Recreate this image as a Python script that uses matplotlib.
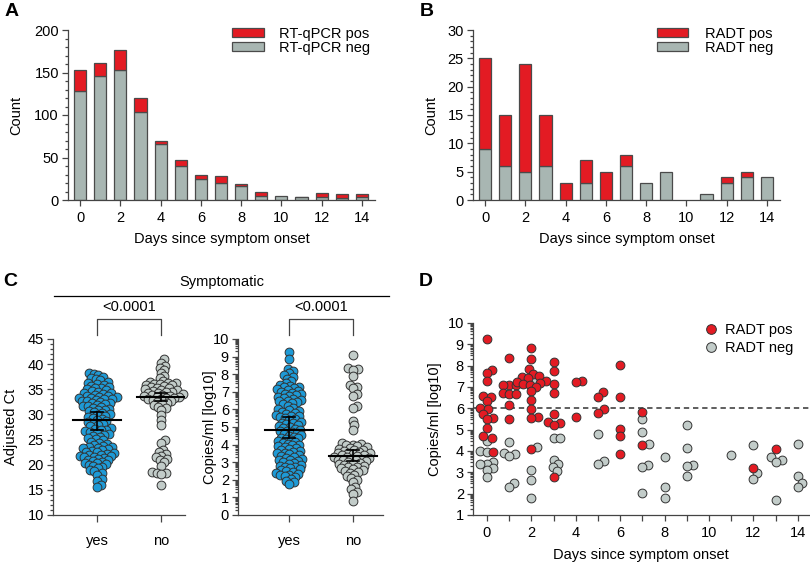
import numpy as np
import matplotlib
matplotlib.use("Agg")
import matplotlib.pyplot as plt
from matplotlib.ticker import MultipleLocator, FixedLocator
from matplotlib.lines import Line2D
from matplotlib.patches import Patch

plt.rcParams['font.family'] = ['Liberation Sans', 'DejaVu Sans']
plt.rcParams['font.size'] = 10.5

# ---- data ----
days = np.arange(15)
pcr_neg = [128, 146, 153, 104, 66, 40, 25, 20, 16, 5, 5, 3, 4, 2, 3]
pcr_pos = [25, 15, 24, 16, 3, 7, 5, 8, 3, 5, 0, 1, 4, 5, 4]
radt_neg = [9, 6, 5, 6, 0, 3, 0, 6, 3, 5, 0, 1, 3, 4, 4]
radt_pos = [16, 9, 19, 9, 3, 4, 5, 2, 0, 0, 0, 0, 1, 1, 0]

# panel C: symptomatic yes / no
groups = ["yes", "no"]
ct_yes = [38.3, 38.1, 37.8, 37.5, 37.2, 37.0, 36.8, 36.5, 36.3, 36.1, 35.9, 35.7,
          35.5, 35.3, 35.2, 35.0, 34.8, 34.6, 34.5, 34.3, 34.2, 34.0, 33.9, 33.7, 33.6,
          33.5, 33.4, 33.3, 33.2, 33.1, 33.0, 32.9, 32.7, 32.6, 32.5, 32.3, 32.2, 32.0,
          31.9, 31.7, 31.6, 31.5, 31.3, 31.1, 30.9, 30.8, 30.6, 30.4, 30.2, 30.0, 29.8,
          29.6, 29.4, 29.2, 29.0, 28.8, 28.6, 28.4, 28.2, 28.0, 27.8, 27.6, 27.4, 27.2,
          27.0, 26.9, 26.7, 26.6, 26.4, 26.2, 26.0, 25.8, 25.6, 25.4, 25.1, 24.9, 24.6,
          24.4, 24.2, 24.0, 23.8, 23.6, 23.5, 23.4, 23.3, 23.1, 22.9, 22.8, 22.6, 22.5,
          22.3, 22.2, 22.0, 21.9, 21.8, 21.7, 21.6, 21.5, 21.4, 21.2, 21.0, 20.9, 20.7,
          20.6, 20.4, 20.3, 20.1, 19.9, 19.7, 19.5, 19.3, 19.0, 18.7, 18.4, 18.0, 17.2,
          16.8, 16.0, 15.5]
ct_no = [41.0, 40.3, 39.7, 39.3, 38.8, 38.2, 37.6, 37.2, 36.6, 36.5, 36.3, 36.2, 36.1,
         36.0, 35.9, 35.8, 35.6, 35.5, 35.3, 35.2, 35.0, 34.9, 34.8, 34.7, 34.5, 34.4,
         34.3, 34.2, 34.0, 33.9, 33.8, 33.7, 33.6, 33.5, 33.4, 33.3, 33.2, 33.1, 33.0,
         32.8, 32.6, 32.4, 32.2, 32.0, 31.8, 31.5, 31.2, 30.8, 29.8, 28.8, 27.8, 25.0,
         24.4, 23.0, 22.6, 22.2, 21.8, 21.5, 21.2, 20.9, 20.5, 19.8, 18.6, 18.4, 18.3,
         18.2, 16.0]
cp_yes = [9.25, 8.85, 8.3, 8.2, 8.05, 7.95, 7.85, 7.75, 7.6, 7.5, 7.4, 7.35, 7.3, 7.25,
          7.2, 7.15, 7.1, 7.05, 7.0, 6.95, 6.9, 6.85, 6.8, 6.75, 6.7, 6.65, 6.6, 6.55,
          6.5, 6.45, 6.4, 6.35, 6.3, 6.2, 6.1, 6.0, 5.95, 5.9, 5.85, 5.8, 5.75, 5.7, 5.65,
          5.6, 5.55, 5.5, 5.45, 5.4, 5.3, 5.25, 5.2, 5.15, 5.1, 5.05, 5.0, 4.95, 4.9, 4.85,
          4.8, 4.75, 4.7, 4.65, 4.6, 4.55, 4.5, 4.45, 4.4, 4.35, 4.3, 4.25, 4.2, 4.15, 4.1,
          4.05, 4.0, 3.95, 3.9, 3.85, 3.8, 3.75, 3.7, 3.65, 3.6, 3.55, 3.5, 3.45, 3.4, 3.35,
          3.3, 3.25, 3.2, 3.15, 3.1, 3.05, 3.0, 2.95, 2.9, 2.85, 2.8, 2.75, 2.7, 2.65, 2.6,
          2.55, 2.5, 2.45, 2.4, 2.35, 2.3, 2.25, 2.2, 2.15, 2.05, 1.95, 1.85, 1.75]
cp_no = [9.1, 8.35, 8.3, 8.25, 7.9, 7.4, 7.3, 7.2, 6.9, 6.75, 6.2, 6.1, 5.35, 5.1, 4.85,
         4.1, 4.05, 4.0, 3.95, 3.9, 3.85, 3.8, 3.75, 3.7, 3.7, 3.65, 3.6, 3.55, 3.5, 3.5,
         3.45, 3.4, 3.4, 3.35, 3.3, 3.3, 3.25, 3.2, 3.2, 3.15, 3.1, 3.1, 3.05, 3.0, 2.95,
         2.9, 2.9, 2.85, 2.8, 2.75, 2.7, 2.65, 2.6, 2.55, 2.5, 2.45, 2.4, 2.3, 2.2, 2.1,
         2.0, 1.85, 1.6, 1.45, 1.3, 1.2, 0.8]
# median with 95% CI as shown
ct_median = [28.9, 33.5]
ct_ci_low = [26.9, 32.7]
ct_ci_high = [30.4, 34.3]
cp_median = [4.85, 3.35]
cp_ci_low = [4.35, 3.05]
cp_ci_high = [5.55, 3.7]
p_text = "<0.0001"

# panel D: copies per day, RADT positive / negative
radt_pos_copies = [
    [9.25, 7.8, 7.65, 7.3, 6.6, 6.55, 6.35, 6.0, 5.95, 5.75, 5.55, 5.5, 5.1, 4.7, 4.6, 3.95],
    [8.35, 7.1, 7.1, 7.1, 6.7, 6.65, 6.65, 6.15, 5.5],
    [8.85, 8.3, 7.85, 7.6, 7.5, 7.45, 7.4, 7.3, 7.25, 7.2, 7.15, 7.1, 7.0, 6.8, 6.4,
     5.95, 5.6, 5.55, 4.1],
    [8.15, 7.75, 7.15, 6.7, 5.75, 5.35, 5.3, 5.2, 2.8],
    [7.3, 7.25, 5.6],
    [6.75, 6.55, 5.95, 5.8],
    [8.05, 6.55, 5.05, 4.7, 3.85],
    [5.85, 4.3],
    [], [], [], [],
    [3.2],
    [4.1],
    []]
radt_neg_copies = [
    [4.45, 4.0, 3.95, 3.5, 3.4, 3.4, 3.2, 3.1, 2.8],
    [4.4, 3.9, 3.85, 3.75, 2.5, 2.3],
    [7.3, 4.2, 3.1, 2.65, 1.8],
    [4.6, 4.6, 3.6, 3.4, 3.25, 3.05],
    [],
    [4.8, 3.55, 3.4],
    [],
    [5.5, 4.9, 4.35, 3.35, 3.25, 2.05],
    [3.7, 2.3, 1.8],
    [5.2, 4.15, 3.35, 3.3, 2.85],
    [],
    [3.8],
    [4.3, 2.95, 2.7],
    [3.7, 3.6, 3.5, 1.7],
    [4.35, 2.85, 2.5, 2.3]]
cutoff = 6

red = '#e31b23'
bar_gray = '#a8b6b2'
pt_gray = '#c2ccc9'
blue = '#1e9ad6'
edge = '#333333'
axc = '#444444'

W, H = 810, 563
fig = plt.figure(figsize=(W / 100, H / 100), dpi=100)


def box(l, t, r, b):
    # pixel box -> figure fraction
    return [l / W, 1 - b / H, (r - l) / W, (b - t) / H]


def style(ax):
    for s in ['top', 'right']:
        ax.spines[s].set_visible(False)
    for s in ['left', 'bottom']:
        ax.spines[s].set_color(axc)
        ax.spines[s].set_linewidth(0.9)
    ax.tick_params(which='both', direction='out', color=axc, width=0.9, labelsize=10.5)
    ax.tick_params(which='major', length=4, pad=2.5)
    ax.tick_params(which='minor', length=2.5)


def swarm_x(ax, xc, vals, d_px, step=0.5):
    vals = np.asarray(vals, float)
    if len(vals) == 0:
        return vals
    pix = ax.transData.transform(np.column_stack([np.full(len(vals), xc), vals]))
    x0 = pix[0, 0]
    ys = pix[:, 1]
    c = np.arange(step, 300, step)
    cands = np.concatenate([[0.0], np.column_stack([c, -c]).ravel()])
    px, py = [], []
    xs = np.empty(len(vals))
    for i in np.argsort(ys):
        off = 0.0
        if px:
            pa = np.array(px)
            pb = np.array(py)
            near = np.abs(pb - ys[i]) < d_px
            pa, pb = pa[near], pb[near]
            for off in cands:
                if np.all((pa - off) ** 2 + (pb - ys[i]) ** 2 >= d_px ** 2):
                    break
        px.append(off)
        py.append(ys[i])
        xs[i] = x0 + off
    return ax.transData.inverted().transform(np.column_stack([xs, ys]))[:, 0]


def bar_panel(ax, neg, pos, ymax, major, minor):
    neg = np.array(neg)
    pos = np.array(pos)
    m = neg > 0
    ax.bar(days[m], neg[m], width=0.6, color=bar_gray, edgecolor='#4a4a4a', lw=0.9, zorder=2)
    m = pos > 0
    ax.bar(days[m], pos[m], bottom=neg[m], width=0.6, color=red, edgecolor='#4a4a4a', lw=0.9, zorder=2)
    ax.set_xlim(-0.6, 14.65)
    ax.set_ylim(0, ymax)
    ax.set_xticks(np.arange(0, 15, 2))
    ax.yaxis.set_major_locator(MultipleLocator(major))
    ax.yaxis.set_minor_locator(MultipleLocator(minor))
    style(ax)
    ax.tick_params(axis='x', pad=4)
    ax.set_ylabel('Count')
    ax.set_xlabel('Days since symptom onset')
    ax.xaxis.set_label_coords(0.5, -0.19)
    handles = [Patch(facecolor=red, edgecolor='#4a4a4a', lw=0.9),
               Patch(facecolor=bar_gray, edgecolor='#4a4a4a', lw=0.9)]
    return handles


# ---- A ----
axA = fig.add_axes(box(68, 30, 375, 200))
h = bar_panel(axA, pcr_neg, pcr_pos, 200, 50, 10)
axA.yaxis.set_label_coords(-0.147, 0.5)
axA.legend(h, ['RT-qPCR pos', 'RT-qPCR neg'], loc='upper left', bbox_to_anchor=(0.534, 1.02),
           frameon=False, borderpad=0, borderaxespad=0, handlelength=2.2, handleheight=0.5,
           handletextpad=1.05, labelspacing=0.0, fontsize=10.5)

# ---- B ----
axB = fig.add_axes(box(473, 30, 780, 200))
h = bar_panel(axB, radt_neg, radt_pos, 30, 5, 1)
axB.yaxis.set_label_coords(-0.114, 0.5)
axB.legend(h, ['RADT pos', 'RADT neg'], loc='upper left', bbox_to_anchor=(0.6, 1.02),
           frameon=False, borderpad=0, borderaxespad=0, handlelength=2.1, handleheight=0.5,
           handletextpad=1.15, labelspacing=0.0, fontsize=10.5)


def log_minor(lo, hi):
    return [n + np.log10(k) for n in range(lo, hi) for k in range(2, 10)]


# ---- C ----
def dot_panel(ax, data, colors, med, lo, hi, d_px):
    for i, (vals, col) in enumerate(zip(data, colors)):
        xs = swarm_x(ax, i, vals, d_px)
        ax.scatter(xs, vals, s=40, color=col, edgecolor=edge, linewidth=0.7, zorder=3, clip_on=False)
    for i in range(len(data)):
        ax.plot([i - 0.37, i + 0.37], [med[i], med[i]], color='black', lw=1.5, zorder=4)
        ax.plot([i, i], [lo[i], hi[i]], color='black', lw=1.2, zorder=4)
        for v in (lo[i], hi[i]):
            ax.plot([i - 0.09, i + 0.09], [v, v], color='black', lw=1.2, zorder=4)
    ax.set_xticks([0, 1])
    ax.set_xticklabels(groups)
    style(ax)
    ax.tick_params(axis='x', pad=9, length=5)
    # significance bracket
    tr = ax.get_xaxis_transform()
    ax.plot([0, 0, 1, 1], [1.023, 1.114, 1.114, 1.023], color=axc, lw=0.9, transform=tr, clip_on=False)
    ax.text(0.5, 1.18, p_text, transform=tr, ha='center', va='center', fontsize=10.5)


axC1 = fig.add_axes(box(53, 339, 185, 515))
axC1.set_xlim(-0.69, 1.375)
axC1.set_ylim(10, 45)
axC1.yaxis.set_major_locator(MultipleLocator(5))
axC1.yaxis.set_minor_locator(MultipleLocator(1))
dot_panel(axC1, [ct_yes, ct_no], [blue, pt_gray], ct_median, ct_ci_low, ct_ci_high, 4.6)
axC1.set_ylabel('Adjusted Ct')
axC1.yaxis.set_label_coords(-0.265, 0.5)

axC2 = fig.add_axes(box(238, 339, 383, 515))
axC2.set_xlim(-0.8, 1.47)
axC2.set_ylim(0, 10)
axC2.set_yticks(np.arange(0, 11))
axC2.yaxis.set_minor_locator(FixedLocator(log_minor(0, 10)))
dot_panel(axC2, [cp_yes, cp_no], [blue, pt_gray], cp_median, cp_ci_low, cp_ci_high, 4.6)
axC2.set_ylabel('Copies/ml [log10]')
axC2.yaxis.set_label_coords(-0.145, 0.5)

fig.text(222 / W, 1 - 282 / H, 'Symptomatic', ha='center', va='center', fontsize=10.5)
fig.add_artist(Line2D([54 / W, 389 / W], [1 - 296 / H, 1 - 296 / H], color='black', lw=0.9))

# ---- D ----
axD = fig.add_axes(box(473, 323, 809, 515))
axD.set_xlim(-0.63, 14.5)
axD.set_ylim(1, 10)
axD.set_yticks(np.arange(1, 11))
axD.yaxis.set_minor_locator(FixedLocator(log_minor(1, 10)))
axD.set_xticks(days)
axD.set_xticklabels([str(d) if d % 2 == 0 else '' for d in days])
style(axD)
axD.tick_params(axis='x', pad=4)
axD.axhline(cutoff, color='#333333', lw=1.1, ls=(0, (3.5, 2.5)), zorder=1)
for d in days:
    vals = radt_neg_copies[d] + radt_pos_copies[d]
    if not vals:
        continue
    xs = swarm_x(axD, d, vals, 6.2)
    n = len(radt_neg_copies[d])
    axD.scatter(xs[:n], vals[:n], s=40, color=pt_gray, edgecolor=edge, linewidth=0.7, zorder=2)
    axD.scatter(xs[n:], vals[n:], s=40, color=red, edgecolor=edge, linewidth=0.7, zorder=3)
axD.set_ylabel('Copies/ml [log10]')
axD.yaxis.set_label_coords(-0.092, 0.5)
axD.set_xlabel('Days since symptom onset')
axD.xaxis.set_label_coords(0.5, -0.17)
hd = [Line2D([], [], marker='o', ls='none', ms=7, mfc=red, mec=edge, mew=0.7),
      Line2D([], [], marker='o', ls='none', ms=7, mfc=pt_gray, mec=edge, mew=0.7)]
axD.legend(hd, ['RADT pos', 'RADT neg'], loc='upper left', bbox_to_anchor=(0.69, 1.0),
           frameon=False, borderpad=0, borderaxespad=0, handlelength=0.9,
           handletextpad=0.5, labelspacing=0.25, fontsize=10.5)

# panel letters
for lab, x, y in [('A', 5, 12), ('B', 420, 12), ('C', 3, 282), ('D', 419, 281)]:
    fig.text(x / W, 1 - y / H, lab, ha='left', va='center', fontsize=14, weight='bold')

fig.savefig('out.png', dpi=100)
